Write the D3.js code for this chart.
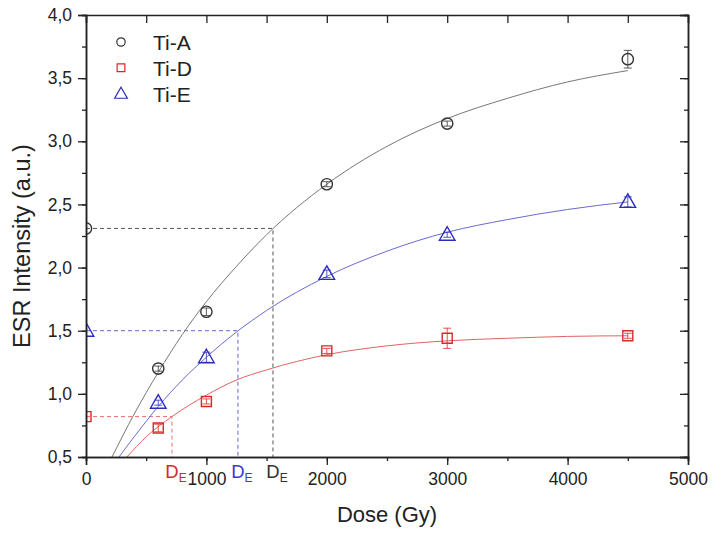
<!DOCTYPE html>
<html>
<head>
<meta charset="utf-8">
<script src="https://cdn.jsdelivr.net/npm/d3@7"></script>
<style>
  body { margin: 0; background: #fff; }
  svg text { font-family: "Liberation Sans", Arial, sans-serif; }
</style>
</head>
<body>
<div class="chart"></div>
<script>
let width = 712
let height = 533
let margin = {top: 15, right: 24, bottom: 76, left: 86}

// measured points (dose in Gy, intensity in a.u.)
const dose = [600, 1000, 2000, 3000, 4500]
const tiA = [1.20, 1.65, 2.66, 3.14, 3.65]
const tiD = [0.73, 0.94, 1.34, 1.44, 1.46]
const tiE = [0.93, 1.29, 1.95, 2.26, 2.52]
const errA = [0.02, 0.03, 0.02, 0.02, 0.07]
const errD = [0.03, 0.02, 0.02, 0.08, 0.02]
const errE = [0.02, 0.04, 0.03, 0.02, 0.04]

// fitted curves
const fitA = [[216,0.50],[400,0.84],[600,1.17],[800,1.47],[1000,1.73],[1250,2.01],[1500,2.26],[2000,2.66],[2500,2.96],[3000,3.18],[3500,3.34],[4000,3.47],[4500,3.56]]
const fitD = [[340,0.50],[500,0.66],[714,0.82],[1000,0.99],[1250,1.11],[1500,1.19],[2000,1.31],[2500,1.38],[3000,1.42],[3500,1.44],[4000,1.455],[4500,1.46]]
const fitE = [[274,0.50],[400,0.66],[600,0.90],[800,1.11],[1000,1.29],[1250,1.49],[1500,1.66],[2000,1.93],[2500,2.13],[3000,2.28],[3500,2.38],[4000,2.46],[4500,2.52]]

// equivalent dose (DE) and the intensity at zero added dose
const deDose = [1553, 714, 1262]
const deLevel = [2.31, 0.82, 1.50]

const seriesNames = ["Ti-A", "Ti-D", "Ti-E"]
const xTicks = [0, 1000, 2000, 3000, 4000, 5000]
const yTicks = [0.5, 1.0, 1.5, 2.0, 2.5, 3.0, 3.5, 4.0]

const markColor = ["#333333", "#d62a2a", "#2b2bbf"]
const lineColor = ["#777777", "#e06464", "#6a6ad0"]
const dashColor = ["#555555", "#e87070", "#6666cc"]
const labelColor = ["#333333", "#d62a2a", "#3a3acc"]
const symbols = [d3.symbolCircle, d3.symbolSquare, d3.symbolTriangle]
const symSize = [100, 100, 105]
const legSize = [55, 60, 70]

const series = seriesNames.map((name, i) => ({
  name, i,
  pts: dose.map((d, k) => ({x: d, y: [tiA, tiD, tiE][i][k], e: [errA, errD, errE][i][k]})),
  fit: [fitA, fitD, fitE][i]
}))

const iw = width - margin.left - margin.right
const ih = height - margin.top - margin.bottom

const svg = d3.select(".chart")
  .append("svg")
  .attr("width", width)
  .attr("height", height)
  .append("g")
  .attr("transform", `translate(${margin.left},${margin.top})`)

const x = d3.scaleLinear().domain([0, 5000]).range([0, iw])
const y = d3.scaleLinear().domain([0.5, 4.0]).range([ih, 0])

svg.append("clipPath").attr("id", "clip")
  .append("rect").attr("width", iw).attr("height", ih)

const plot = svg.append("g").attr("clip-path", "url(#clip)")

// dashed DE guides
series.forEach(s => {
  const dx = x(deDose[s.i]), dy = y(deLevel[s.i])
  plot.append("path")
    .attr("d", `M0,${dy}H${dx}V${ih}`)
    .attr("fill", "none")
    .attr("stroke", dashColor[s.i])
    .attr("stroke-width", 1)
    .attr("stroke-dasharray", "4,3")
})

const line = d3.line().x(d => x(d[0])).y(d => y(d[1])).curve(d3.curveMonotoneX)

series.forEach(s => {
  plot.append("path")
    .datum(s.fit)
    .attr("d", line)
    .attr("fill", "none")
    .attr("stroke", lineColor[s.i])
    .attr("stroke-width", 1)
})

// error bars + markers
series.forEach(s => {
  const g = plot.append("g")
  g.selectAll("path.err")
    .data(s.pts)
    .enter()
    .append("path")
    .attr("class", "err")
    .attr("d", d => {
      const cx = x(d.x), t = y(d.y + d.e), b = y(d.y - d.e)
      return `M${cx},${t}V${b}M${cx-4},${t}H${cx+4}M${cx-4},${b}H${cx+4}`
    })
    .attr("fill", "none")
    .attr("stroke", markColor[s.i])
    .attr("stroke-width", 0.8)

  g.selectAll("path.mk")
    .data(s.pts.concat([{x: 0, y: deLevel[s.i]}]))
    .enter()
    .append("path")
    .attr("class", "mk")
    .attr("transform", d => `translate(${x(d.x)},${y(d.y) + (s.i == 2 ? 1 : 0)})`)
    .attr("d", d3.symbol().type(symbols[s.i]).size(symSize[s.i]))
    .attr("fill", "none")
    .attr("stroke", markColor[s.i])
    .attr("stroke-width", 1.4)
})

// axes
const fmtY = d => d3.format(".1f")(d).replace(".", ",")
const xMinor = d3.range(0, 5001, 500)
const yMinor = d3.range(0.5, 4.001, 0.25)

svg.append("g").attr("transform", `translate(0,${ih})`)
  .call(d3.axisBottom(x).tickValues(xMinor).tickSize(4).tickFormat(""))
svg.append("g").attr("transform", `translate(0,${ih})`)
  .call(d3.axisBottom(x).tickValues(xTicks).tickSize(8).tickPadding(8).tickFormat(d3.format("d")))
svg.append("g").call(d3.axisTop(x).tickValues(xMinor).tickSize(-8).tickFormat(""))

svg.append("g").call(d3.axisLeft(y).tickValues(yMinor).tickSize(4).tickFormat(""))
svg.append("g").call(d3.axisLeft(y).tickValues(yTicks).tickSize(8).tickPadding(6).tickFormat(fmtY))
svg.append("g").attr("transform", `translate(${iw},0)`)
  .call(d3.axisRight(y).tickValues(yMinor).tickSize(-4).tickFormat(""))
svg.append("g").attr("transform", `translate(${iw},0)`)
  .call(d3.axisRight(y).tickValues(yTicks).tickSize(-8).tickFormat(""))

svg.selectAll(".domain").attr("stroke", "#222").attr("stroke-width", 1.5)
svg.selectAll(".tick line").attr("stroke", "#222").attr("stroke-width", 1.3)
svg.selectAll(".tick text").attr("font-size", 17.5).attr("fill", "#222")

// DE labels below axis
series.forEach(s => {
  const t = svg.append("text")
    .attr("x", x(deDose[s.i]) + 4)
    .attr("y", ih + 21)
    .attr("text-anchor", "middle")
    .attr("fill", labelColor[s.i])
    .attr("font-size", 18.5)
  t.append("tspan").text("D")
  t.append("tspan").text("E").attr("font-size", 12).attr("dy", 4)
})

// axis titles
svg.append("text")
  .attr("x", iw / 2)
  .attr("y", ih + 65)
  .attr("text-anchor", "middle")
  .attr("font-size", 22)
  .attr("fill", "#222")
  .text("Dose (Gy)")

svg.append("text")
  .attr("transform", `translate(${-56},${ih / 2 + 10}) rotate(-90)`)
  .attr("text-anchor", "middle")
  .attr("font-size", 23.5)
  .attr("fill", "#222")
  .text("ESR Intensity (a.u.)")

// legend
const legend = svg.append("g").attr("transform", "translate(35,27)")
series.forEach(s => {
  const row = legend.append("g").attr("transform", `translate(0,${s.i * 25.8})`)
  row.append("path")
    .attr("d", d3.symbol().type(symbols[s.i]).size(legSize[s.i]))
    .attr("transform", s.i == 2 ? "translate(0,1)" : null)
    .attr("fill", "none")
    .attr("stroke", markColor[s.i])
    .attr("stroke-width", 1.2)
  row.append("text")
    .attr("x", 32)
    .attr("y", 8)
    .attr("font-size", 21)
    .attr("fill", "#222")
    .text(s.name)
})
</script>
</body>
</html>
